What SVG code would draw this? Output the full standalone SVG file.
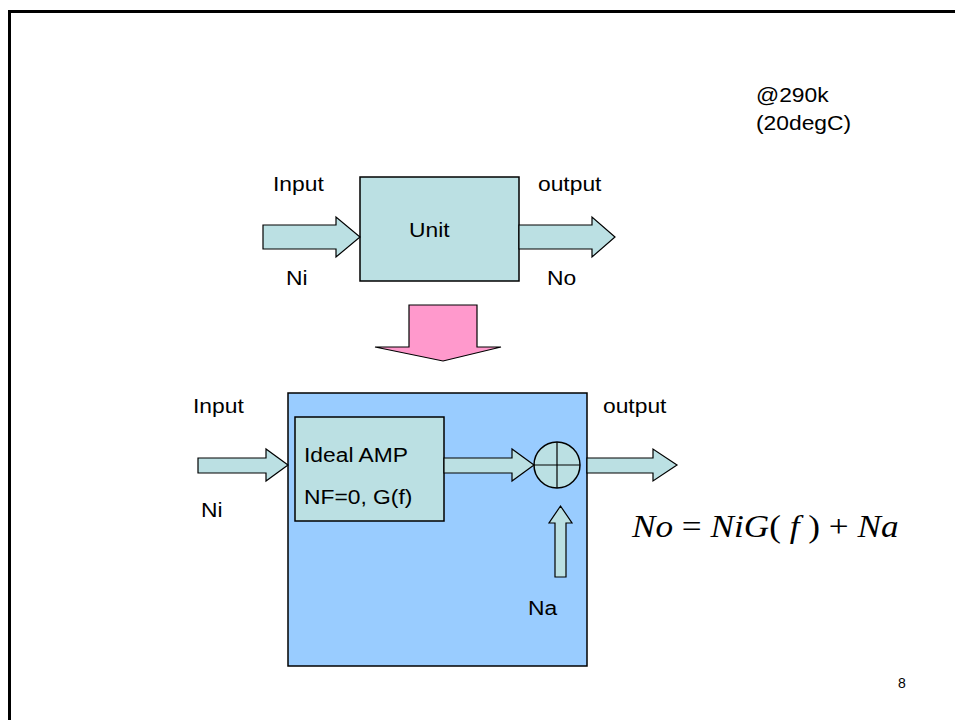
<svg xmlns="http://www.w3.org/2000/svg" width="955" height="720" viewBox="0 0 955 720">
<style>
.t{font-family:"Liberation Sans",Arial,sans-serif;font-size:19.5px;fill:#000}
.box{fill:#BBE0E3;stroke:#000;stroke-width:1.5}
.arr{fill:#BBE0E3;stroke:#000;stroke-width:1.2;stroke-linejoin:miter}
.eq{font-family:"Liberation Serif","Times New Roman",serif;font-size:32px;fill:#000}
</style>
<rect width="955" height="720" fill="#fff"/>
<path d="M9.5 720 V11.5 H955" fill="none" stroke="#000" stroke-width="3"/>

<g id="temp">
<text class="t" transform="translate(756 102) scale(1.17 1)">@290k</text>
<text class="t" transform="translate(756 130) scale(1.17 1)">(20degC)</text>
</g>

<g id="unit">
<rect class="box" x="360" y="177" width="159" height="104"/>
<text class="t" transform="translate(409 237) scale(1.17 1)">Unit</text>
</g>
<g id="labels-top">
<text class="t" transform="translate(273 191) scale(1.17 1)">Input</text>
<text class="t" transform="translate(538 191) scale(1.17 1)">output</text>
<text class="t" transform="translate(286 285) scale(1.17 1)">Ni</text>
<text class="t" transform="translate(547 285) scale(1.17 1)">No</text>
</g>

<g id="system">
<rect x="288" y="393" width="299" height="273" fill="#99CCFF" stroke="#000" stroke-width="1.5"/>
</g>
<g id="ideal-amp">
<rect class="box" x="295" y="417" width="149" height="104"/>
<text class="t" transform="translate(304 462) scale(1.17 1)">Ideal AMP</text>
<text class="t" transform="translate(304 504) scale(1.17 1)">NF=0, G(f)</text>
</g>
<g id="summer">
<circle class="box" cx="557" cy="465" r="23" stroke-width="1.2"/>
<path d="M534 465 H580 M557 442 V488" stroke="#000" stroke-width="1.2"/>
</g>
<g id="labels-bottom">
<text class="t" transform="translate(193 413) scale(1.17 1)">Input</text>
<text class="t" transform="translate(603 413) scale(1.17 1)">output</text>
<text class="t" transform="translate(201 517) scale(1.17 1)">Ni</text>
<text class="t" transform="translate(528 615) scale(1.17 1)">Na</text>
</g>

<g id="connectors">
<path class="arr" d="M263 225 H336 V217 L360 237 L336 257 V249 H263 Z"/>
<path class="arr" d="M519 225 H592 V217 L615 237 L592 257 V249 H519 Z"/>
<path d="M409 305 H477 V347 H501 L443 361 L375 347 H409 Z" fill="#FF99CC" stroke="#000" stroke-width="1.2"/>
<path class="arr" d="M198 458 H266 V449 L288 465 L266 481 V473 H198 Z"/>
<path class="arr" d="M444 458 H512 V449 L534 465 L512 481 V473 H444 Z"/>
<path class="arr" d="M587 458 H653 V449 L677 465 L653 481 V473 H587 Z"/>
<path class="arr" d="M555 577 V523 H549 L560.5 506 L572 523 H566 V577 Z"/>
</g>

<g id="equation">
<text class="eq" transform="translate(632 537) scale(1.1 1)"><tspan font-style="italic">No</tspan> = <tspan font-style="italic">NiG</tspan>(<tspan font-style="italic"> f </tspan>) + <tspan font-style="italic">Na</tspan></text>
</g>

<text id="page" x="898" y="688" style="font-family:'Liberation Sans',Arial,sans-serif;font-size:14px">8</text>
</svg>
